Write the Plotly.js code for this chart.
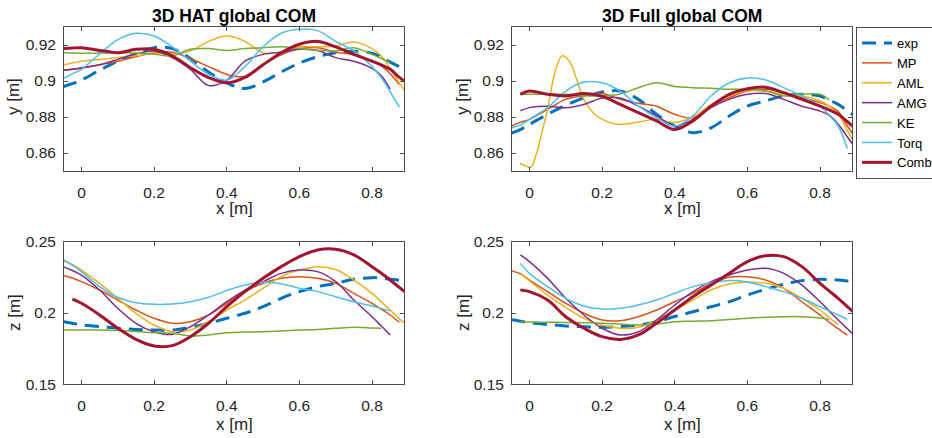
<!DOCTYPE html>
<html>
<head>
<meta charset="utf-8">
<script src="https://cdn.plot.ly/plotly-3.0.1.min.js"></script>
<style>
  html, body { margin: 0; padding: 0; background: #ffffff; width: 932px; height: 438px; overflow: hidden; }
  #chart { width: 960px; height: 438px; }
</style>
</head>
<body>
<div id="chart"></div>
<script>
// Sample positions along the walking direction x [m]
const xGrid = [-0.05, -0.025, 0, 0.05, 0.1, 0.15, 0.2, 0.25, 0.3, 0.35, 0.4, 0.45,
               0.5, 0.55, 0.6, 0.65, 0.7, 0.75, 0.8, 0.825, 0.85, 0.875, 0.9];

const seriesNames = ['exp', 'MP', 'AML', 'AMG', 'KE', 'Torq', 'Comb'];

// 3D HAT model, vertical COM (y)
const hatY_exp  = [0.8969, 0.8985, 0.9005, 0.906, 0.911, 0.915, 0.9185, 0.918, 0.9125, 0.905, 0.899, 0.8958, 0.8995, 0.905, 0.910, 0.9135, 0.9157, 0.9165, 0.9155, 0.9135, 0.9105, 0.908, 0.905];
const hatY_MP   = [0.906, 0.9065, 0.907, 0.909, 0.911, 0.9135, 0.9157, 0.916, 0.9124, 0.908, 0.9037, 0.9025, 0.909, 0.9145, 0.918, 0.9185, 0.916, 0.9145, 0.911, 0.9085, 0.904, 0.898, null];
const hatY_AML  = [0.909, 0.910, 0.911, 0.912, 0.913, 0.914, 0.9154, 0.915, 0.9167, 0.922, 0.925, 0.922, 0.9157, 0.916, 0.919, 0.919, 0.9194, 0.9217, 0.918, 0.914, 0.907, 0.899, 0.892];
const hatY_AMG  = [0.906, 0.9065, 0.9074, 0.909, 0.912, 0.915, 0.9167, 0.913, 0.9065, 0.8975, 0.9005, 0.911, 0.9148, 0.916, 0.9176, 0.917, 0.913, 0.911, 0.907, 0.903, 0.8955, null, null];
const hatY_KE   = [0.9157, 0.9156, 0.9154, 0.9155, 0.9157, 0.9155, 0.9148, 0.914, 0.9176, 0.918, 0.917, 0.918, 0.9185, 0.919, 0.918, 0.917, 0.9167, 0.9185, 0.9148, 0.9125, 0.910, null, null];
const hatY_Torq = [0.9013, 0.904, 0.9065, 0.915, 0.923, 0.9265, 0.925, 0.919, 0.911, 0.9037, 0.9005, 0.908, 0.919, 0.9265, 0.9287, 0.928, 0.922, 0.9167, 0.908, 0.902, 0.894, 0.8855, null];
const hatY_Comb = [0.918, 0.9183, 0.9185, 0.917, 0.9157, 0.9176, 0.9176, 0.914, 0.9074, 0.9019, 0.899, 0.902, 0.909, 0.9157, 0.9204, 0.922, 0.919, 0.9148, 0.911, 0.909, 0.9065, 0.902, 0.8985];

// 3D Full model, vertical COM (y)
const fullY_exp  = [0.871, 0.873, 0.8759, 0.8815, 0.8865, 0.8907, 0.8939, 0.8944, 0.8898, 0.8815, 0.875, 0.8713, 0.874, 0.8806, 0.8861, 0.8889, 0.8917, 0.8926, 0.8917, 0.8895, 0.887, 0.8835, 0.880];
const fullY_MP   = [0.875, 0.877, 0.8787, 0.8843, 0.8898, 0.8917, 0.893, 0.8898, 0.8876, 0.886, 0.8815, 0.8795, 0.886, 0.8907, 0.8944, 0.8954, 0.8935, 0.8907, 0.888, 0.886, 0.883, 0.875, 0.868];
const fullY_AML_x = [-0.026, -0.01, 0.003, 0.02, 0.035, 0.05, 0.07, 0.09, 0.11, 0.13, 0.15, 0.18, 0.22, 0.25, 0.3, 0.35, 0.4, 0.45, 0.5, 0.55, 0.6, 0.65, 0.7, 0.75, 0.8, 0.85, 0.875, 0.9];
const fullY_AML  = [0.8543, 0.8528, 0.852, 0.860, 0.872, 0.8843, 0.9046, 0.914, 0.911, 0.901, 0.8898, 0.8815, 0.877, 0.8759, 0.8772, 0.8787, 0.877, 0.880, 0.887, 0.8917, 0.8944, 0.8944, 0.8926, 0.8917, 0.889, 0.8815, 0.8725, 0.864];
const fullY_AMG  = [null, 0.8835, 0.8852, 0.886, 0.8852, 0.887, 0.8905, 0.8905, 0.886, 0.8806, 0.875, 0.8787, 0.8852, 0.8898, 0.8926, 0.893, 0.8898, 0.886, 0.8833, 0.881, 0.876, 0.869, 0.862];
const fullY_KE   = [null, 0.8926, 0.8926, 0.8926, 0.8926, 0.8918, 0.8917, 0.8928, 0.8963, 0.899, 0.897, 0.8963, 0.896, 0.8954, 0.8954, 0.8945, 0.8917, 0.8926, 0.8926, 0.8895, null, null, null];
const fullY_Torq = [0.874, 0.8755, 0.8787, 0.8852, 0.8944, 0.8994, 0.899, 0.8944, 0.886, 0.8796, 0.875, 0.8806, 0.8917, 0.899, 0.9017, 0.9006, 0.8963, 0.8917, 0.886, 0.881, 0.875, 0.8625, null];
const fullY_Comb = [null, 0.8926, 0.8944, 0.8926, 0.8917, 0.893, 0.8915, 0.887, 0.8824, 0.8778, 0.8731, 0.8778, 0.886, 0.8926, 0.8957, 0.8965, 0.8935, 0.8898, 0.886, 0.884, 0.8815, 0.8775, 0.873];

// 3D HAT model, lateral COM (z)
const hatZ_exp  = [0.194, 0.1928, 0.1916, 0.1905, 0.1893, 0.1885, 0.1881, 0.1881, 0.190, 0.1928, 0.1963, 0.1998, 0.2044, 0.2103, 0.215, 0.2185, 0.2208, 0.2236, 0.2248, 0.2245, 0.2236, 0.223, 0.2225];
const hatZ_MP   = [0.2262, 0.2245, 0.222, 0.2161, 0.2091, 0.2021, 0.1963, 0.1928, 0.1939, 0.1986, 0.2068, 0.215, 0.2208, 0.2243, 0.2255, 0.2243, 0.2208, 0.2138, 0.2068, 0.2028, 0.1986, 0.1935, null];
const hatZ_AML  = [0.2365, 0.234, 0.2301, 0.2208, 0.2103, 0.1998, 0.1916, 0.1869, 0.1881, 0.1939, 0.2021, 0.2091, 0.2173, 0.2255, 0.2301, 0.2325, 0.2305, 0.2231, 0.2138, 0.208, 0.2021, 0.196, 0.191];
const hatZ_AMG  = [0.2325, 0.2298, 0.2266, 0.2161, 0.2033, 0.1928, 0.1869, 0.185, 0.1904, 0.1986, 0.2079, 0.2161, 0.222, 0.2278, 0.2301, 0.229, 0.222, 0.2091, 0.1974, 0.191, 0.1846, null, null];
const hatZ_KE   = [0.1881, 0.1881, 0.1881, 0.188, 0.1877, 0.187, 0.1862, 0.1858, 0.1839, 0.1846, 0.1862, 0.1866, 0.1869, 0.1873, 0.1881, 0.1885, 0.1893, 0.190, 0.1895, 0.1893, null, null, null];
const hatZ_Torq = [0.2375, 0.2335, 0.229, 0.2185, 0.211, 0.2072, 0.2061, 0.2063, 0.2079, 0.211, 0.2157, 0.2196, 0.2215, 0.2205, 0.2173, 0.215, 0.2114, 0.2079, 0.2049, 0.2032, 0.2015, null, null];
const hatZ_Comb = [null, 0.2097, 0.2068, 0.1986, 0.1893, 0.1815, 0.1769, 0.1771, 0.1834, 0.1928, 0.2044, 0.215, 0.2243, 0.2325, 0.2395, 0.2442, 0.2447, 0.2407, 0.2325, 0.228, 0.2231, 0.218, 0.213];

// 3D Full model, lateral COM (z)
const fullZ_exp  = [0.1953, 0.1942, 0.1932, 0.192, 0.1909, 0.1903, 0.190, 0.1905, 0.1916, 0.1939, 0.1975, 0.2009, 0.2044, 0.2079, 0.2126, 0.2166, 0.2201, 0.2227, 0.2236, 0.2235, 0.2231, 0.2225, 0.222];
const fullZ_MP   = [0.2295, 0.2275, 0.2231, 0.215, 0.2068, 0.1998, 0.1951, 0.1946, 0.1974, 0.2021, 0.2079, 0.2138, 0.2205, 0.225, 0.2255, 0.2231, 0.2173, 0.2079, 0.1986, 0.1935, 0.189, 0.1845, null];
const fullZ_AML  = [null, 0.2278, 0.2225, 0.2126, 0.204, 0.1963, 0.1916, 0.1893, 0.190, 0.1951, 0.2021, 0.2091, 0.2161, 0.2203, 0.2215, 0.2208, 0.2173, 0.2103, 0.2021, 0.197, 0.1915, null, null];
const fullZ_AMG  = [null, 0.2407, 0.236, 0.2243, 0.2103, 0.1986, 0.1893, 0.1846, 0.1869, 0.1951, 0.2056, 0.215, 0.222, 0.2266, 0.2301, 0.2313, 0.2278, 0.2196, 0.2079, 0.2015, 0.1951, 0.189, 0.183];
const fullZ_KE   = [null, 0.1939, 0.1937, 0.1935, 0.1934, 0.1932, 0.1928, 0.1922, 0.1916, 0.1922, 0.1939, 0.1943, 0.1946, 0.1955, 0.1963, 0.197, 0.1974, 0.1974, 0.1965, 0.1955, null, null, null];
const fullZ_Torq = [null, 0.2348, 0.2278, 0.2185, 0.2103, 0.2049, 0.2028, 0.2033, 0.2056, 0.2091, 0.2138, 0.2185, 0.221, 0.2228, 0.2218, 0.2185, 0.215, 0.2103, 0.2044, 0.2015, 0.1986, 0.1955, null];
const fullZ_Comb = [null, 0.2161, 0.215, 0.2091, 0.1974, 0.1893, 0.1834, 0.1815, 0.1846, 0.1928, 0.2021, 0.2114, 0.2196, 0.2278, 0.236, 0.2402, 0.2395, 0.2325, 0.2208, 0.2155, 0.2103, 0.2045, 0.199];

// Tick labels
const xTicks = [0, 0.2, 0.4, 0.6, 0.8];
const xTickText = ['0', '0.2', '0.4', '0.6', '0.8'];
const yTicks = [0.86, 0.88, 0.9, 0.92];
const yTickText = ['0.86', '0.88', '0.9', '0.92'];
const zTicks = [0.15, 0.2, 0.25];
const zTickText = ['0.15', '0.2', '0.25'];

// ---- styling ----
const FONT = 'Liberation Sans, Arial, Helvetica, sans-serif';
const TXT = '#262626';
const styles = {
  exp:  { color: '#0072BD', width: 3,   dash: '14px,8px' },
  MP:   { color: '#D95319', width: 1.5, dash: 'solid' },
  AML:  { color: '#EDB120', width: 1.5, dash: 'solid' },
  AMG:  { color: '#7E2F8E', width: 1.5, dash: 'solid' },
  KE:   { color: '#77AC30', width: 1.5, dash: 'solid' },
  Torq: { color: '#4DBEEE', width: 1.5, dash: 'solid' },
  Comb: { color: '#A2142F', width: 3,   dash: 'solid' }
};

const panels = [
  { ax: '',  ys: [hatY_exp, hatY_MP, hatY_AML, hatY_AMG, hatY_KE, hatY_Torq, hatY_Comb], legend: false },
  { ax: '2', ys: [fullY_exp, fullY_MP, fullY_AML, fullY_AMG, fullY_KE, fullY_Torq, fullY_Comb], legend: true },
  { ax: '3', ys: [hatZ_exp, hatZ_MP, hatZ_AML, hatZ_AMG, hatZ_KE, hatZ_Torq, hatZ_Comb], legend: false },
  { ax: '4', ys: [fullZ_exp, fullZ_MP, fullZ_AML, fullZ_AMG, fullZ_KE, fullZ_Torq, fullZ_Comb], legend: false }
];

const traces = [];
panels.forEach(p => {
  seriesNames.forEach((name, i) => {
    const st = styles[name];
    const xs = (p.ys[i] === fullY_AML) ? fullY_AML_x : xGrid;
    traces.push({
      type: 'scatter', mode: 'lines',
      x: xs, y: p.ys[i], name: name,
      xaxis: 'x' + p.ax, yaxis: 'y' + p.ax,
      showlegend: p.legend,
      connectgaps: false,
      line: { color: st.color, width: st.width, dash: st.dash, shape: 'spline', smoothing: 1 },
      hoverinfo: 'skip'
    });
  });
});

// The figure canvas is a little wider than the visible page so that the
// legend box can run off the right edge.
const W = 960, H = 438;
const px = v => v / W;
const py = v => 1 - v / H;

function xAxis(anchor, left, right) {
  return {
    domain: [px(left), px(right)], anchor: anchor,
    range: [-0.048, 0.888], tickvals: xTicks, ticktext: xTickText,
    ticks: 'inside', ticklen: 4, tickcolor: '#4d4d4d',
    showline: true, linecolor: '#4d4d4d', linewidth: 1, mirror: 'ticks',
    showgrid: false, zeroline: false,
    tickfont: { family: FONT, size: 15.5, color: TXT },
    ticklabelstandoff: 7, fixedrange: true
  };
}
function yAxis(anchor, top, bottom, range, vals, text) {
  return {
    domain: [py(bottom), py(top)], anchor: anchor,
    range: range, tickvals: vals, ticktext: text,
    ticks: 'inside', ticklen: 4, tickcolor: '#4d4d4d',
    showline: true, linecolor: '#4d4d4d', linewidth: 1, mirror: 'ticks',
    showgrid: false, zeroline: false,
    tickfont: { family: FONT, size: 15.5, color: TXT },
    ticklabelstandoff: 4, fixedrange: true
  };
}

const LX = 64, RX = 404, LX2 = 512, RX2 = 852;
const TT = 27, TB = 171, BT = 241.7, BB = 384.3;

function label(text, x, y, opts) {
  return Object.assign({
    text: text, xref: 'paper', yref: 'paper', x: px(x), y: py(y),
    xanchor: 'center', yanchor: 'middle', showarrow: false,
    font: { family: FONT, size: 17, color: TXT }
  }, opts || {});
}

const layout = {
  width: W, height: H,
  margin: { l: 0, r: 0, t: 0, b: 0 },
  paper_bgcolor: '#ffffff', plot_bgcolor: '#ffffff',
  xaxis:  xAxis('y',  LX, RX),
  yaxis:  yAxis('x',  TT, TB, [0.85, 0.93], yTicks, yTickText),
  xaxis2: xAxis('y2', LX2, RX2),
  yaxis2: yAxis('x2', TT, TB, [0.85, 0.93], yTicks, yTickText),
  xaxis3: xAxis('y3', LX, RX),
  yaxis3: yAxis('x3', BT, BB, [0.15, 0.25], zTicks, zTickText),
  xaxis4: xAxis('y4', LX2, RX2),
  yaxis4: yAxis('x4', BT, BB, [0.15, 0.25], zTicks, zTickText),
  showlegend: true,
  legend: {
    x: px(856), y: py(27), xanchor: 'left', yanchor: 'top',
    bgcolor: '#ffffff', bordercolor: '#4d4d4d', borderwidth: 1,
    font: { family: FONT, size: 13, color: '#000000' },
    tracegroupgap: 0, itemwidth: 30
  },
  annotations: [
    label('<b>3D HAT global COM</b>', (LX + RX) / 2, 16, { font: { family: FONT, size: 17.5, color: '#000000' } }),
    label('<b>3D Full global COM</b>', (LX2 + RX2) / 2, 16, { font: { family: FONT, size: 17.5, color: '#000000' } }),
    label('x [m]', (LX + RX) / 2, 208),
    label('x [m]', (LX2 + RX2) / 2, 208),
    label('x [m]', (LX + RX) / 2, 424.5),
    label('x [m]', (LX2 + RX2) / 2, 424.5),
    label('y [m]', 14, 97, { textangle: -90 }),
    label('y [m]', 463, 97, { textangle: -90 }),
    label('z [m]', 14, 313, { textangle: -90 }),
    label('z [m]', 463, 313, { textangle: -90 })
  ]
};

Plotly.newPlot('chart', traces, layout, { displayModeBar: false, staticPlot: true });
</script>
</body>
</html>
